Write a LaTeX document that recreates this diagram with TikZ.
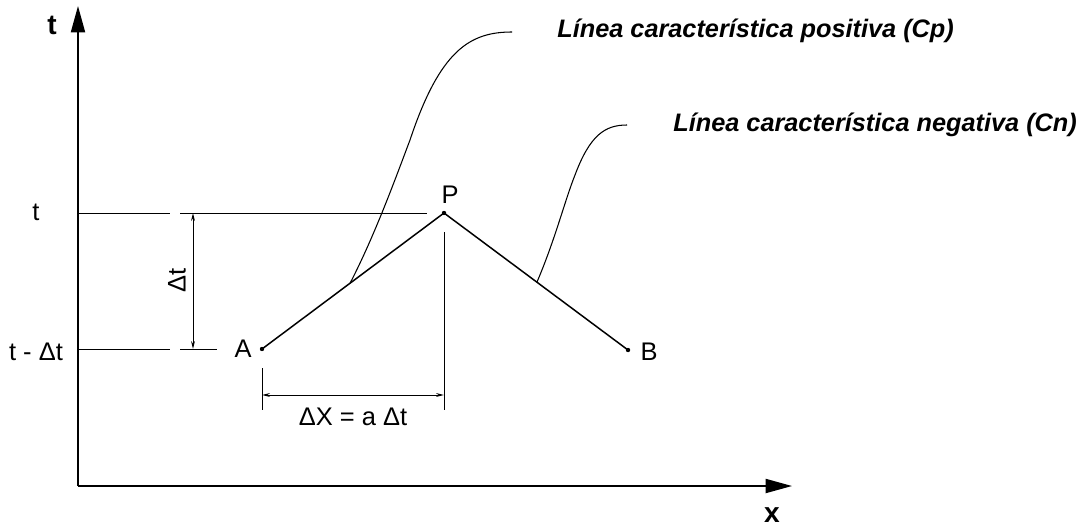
\documentclass[tikz,border=0pt]{standalone}
\usepackage{fontspec}
\setmainfont{Liberation Sans}
\usetikzlibrary{arrows.meta, calc}

\tikzset{
  axisline/.style={line width=1pt, -{Triangle[length=15pt, width=8pt]}},
  charline/.style={line width=0.85pt},
  thinline/.style={line width=0.55pt},
  dimline/.style={line width=0.55pt, {Stealth[length=4.5pt, width=2.2pt]}-{Stealth[length=4.5pt, width=2.2pt]}},
  curveline/.style={line width=0.6pt},
  ptlbl/.style={inner sep=0pt, font=\fontsize{14.5}{17}\selectfont},
  axlbl/.style={inner sep=0pt, font=\fontsize{16}{18}\selectfont\bfseries},
  charlbl/.style={inner sep=0pt, anchor=base west, font=\fontsize{14.4}{17}\selectfont\bfseries\itshape}
}

\begin{document}
\begin{tikzpicture}[x=0.02cm, y=-0.02cm]
  \useasboundingbox (0,0) rectangle (1084,527);

  % Points
  \coordinate (O) at (78,486);
  \coordinate (A) at (262,349);
  \coordinate (P) at (444,213);
  \coordinate (B) at (628,350);

  % Axes
  \coordinate (ytip) at (78,6);
  \coordinate (xtip) at (792,486);
  \draw[axisline] (O) -- (ytip);
  \draw[axisline] (O) -- (xtip);
  \node[axlbl, anchor=base] (tlab) at (52,35) {t};
  \node[axlbl, anchor=base] (xlab) at (772,522) {x};

  % Time levels
  \node[ptlbl, anchor=base] (tt) at (36,220) {t};
  \node[ptlbl, anchor=base] (ttm) at (36,360) {t - Δt};
  \draw[thinline] (O |- P) -- (170,213);
  \draw[thinline] (180,213) -- (427,213);
  \draw[thinline] (O |- A) -- (170,349);
  \draw[thinline] (180,349) -- (217,349);

  % Delta t
  \coordinate (dt1) at (193,213);
  \coordinate (dt2) at (193,349);
  \draw[dimline] (dt1) -- (dt2);
  \node[ptlbl, rotate=90] (dtlab) at (177,280) {Δt};

  % Delta X
  \draw[thinline] (444,232) -- (444,410);
  \draw[thinline] (262,368) -- (262,410);
  \coordinate (dx1) at (262,395);
  \coordinate (dx2) at (444,395);
  \draw[dimline] (dx1) -- (dx2);
  \node[ptlbl, anchor=base] (dxlab) at (353,425) {ΔX = a Δt};

  % Characteristic lines
  \draw[charline] (A) -- (P) -- (B);
  \foreach \p in {A,P,B} \fill (\p) circle (2.2);
  \node[ptlbl, anchor=base] (Alab) at (243,357) {A};
  \node[ptlbl, anchor=base] (Plab) at (450,203) {P};
  \node[ptlbl, anchor=base] (Blab) at (649,360) {B};

  % Leaders
  \coordinate (cp0) at ($(A)!0.484!(P)$);
  \coordinate (cp1) at (512,32);
  \draw[curveline] (cp0) .. controls (375,235) and (396,177) .. (410,140)
    .. controls (440,50) and (470,32) .. (cp1);
  \node[charlbl] (cplab) at (557,38) {Línea característica positiva (Cp)};

  \coordinate (cn0) at ($(P)!0.505!(B)$);
  \coordinate (cn1) at (627,125);
  \draw[curveline] (cn0) .. controls (555,240) and (565,200) .. (575,175)
    .. controls (590,135) and (605,125) .. (cn1);
  \node[charlbl] (cnlab) at (673,132) {Línea característica negativa (Cn)};

\end{tikzpicture}
\end{document}
